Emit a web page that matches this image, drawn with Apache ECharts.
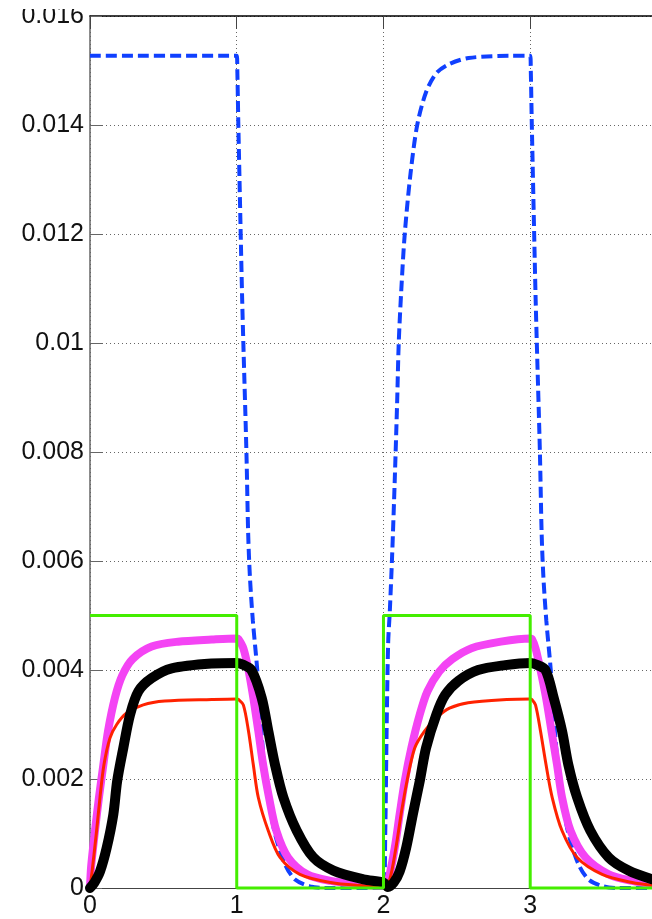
<!DOCTYPE html>
<html>
<head>
<meta charset="utf-8">
<script src="https://cdn.jsdelivr.net/npm/echarts@6/dist/echarts.min.js"></script>
<style>
  html, body { margin: 0; padding: 0; background: #fff; }
  #chart { width: 652px; height: 919px; }
</style>
</head>
<body>
<div id="chart"></div>
<script>
// Tick labels
const xTickValues = [0, 1, 2, 3];
const yTickLabels = ['0', '0.002', '0.004', '0.006', '0.008', '0.01', '0.012', '0.014', '0.016'];

// Square-wave input (green)
const greenT = [0, 1, 1, 2, 2, 3, 3, 3.83];
const greenV = [0.005, 0.005, 0, 0, 0.005, 0.005, 0, 0];

// Blue dashed response
const blueT = [0, 1.0, 1.004, 1.011, 1.027, 1.037, 1.045, 1.066, 1.078, 1.09, 1.11, 1.14, 1.165, 1.19, 1.22, 1.26, 1.33, 1.40, 1.50, 1.60, 2.0,
  2.012, 2.022, 2.032, 2.043, 2.059, 2.077, 2.093, 2.104, 2.122, 2.145, 2.184, 2.23, 2.29, 2.36, 2.45, 2.58, 2.87, 3.0,
  3.004, 3.011, 3.027, 3.037, 3.045, 3.066, 3.078, 3.09, 3.11, 3.14, 3.165, 3.19, 3.22, 3.26, 3.33, 3.40, 3.50, 3.60, 3.83];
const blueV = [0.01527, 0.01527, 0.0150, 0.0140, 0.0120, 0.0108, 0.0100, 0.0080, 0.0065, 0.0057, 0.0049, 0.0040, 0.0030, 0.0022, 0.0016, 0.0010, 0.00043, 0.00015, 0.00003, 0, 0,
  0.0010, 0.0030, 0.0045, 0.00507, 0.0061, 0.0075, 0.0089, 0.0100, 0.0110, 0.0120, 0.0131, 0.0140, 0.0146, 0.01495, 0.01512, 0.01523, 0.01527, 0.01527,
  0.0150, 0.0140, 0.0120, 0.0108, 0.0100, 0.0080, 0.0065, 0.0057, 0.0049, 0.0040, 0.0030, 0.0022, 0.0016, 0.0010, 0.00043, 0.00015, 0.00003, 0, 0];

// Magenta response
const magentaT = [0, 0.008, 0.034, 0.061, 0.091, 0.123, 0.17, 0.22, 0.29, 0.42, 0.6, 0.83, 1.0,
  1.011, 1.045, 1.08, 1.113, 1.147, 1.18, 1.22, 1.27, 1.35, 1.48, 1.64, 1.82, 2.0,
  2.031, 2.077, 2.11, 2.145, 2.19, 2.247, 2.30, 2.38, 2.47, 2.60, 2.80, 3.0,
  3.011, 3.036, 3.07, 3.108, 3.145, 3.183, 3.217, 3.275, 3.377, 3.535, 3.695, 3.83];
const magentaV = [0, 0.0004, 0.00105, 0.00166, 0.00226, 0.00288, 0.00349, 0.0039, 0.0042, 0.00443, 0.00452, 0.00456, 0.00458,
  0.00457, 0.0044, 0.0040, 0.00349, 0.00288, 0.00226, 0.00166, 0.00105, 0.00056, 0.00025, 0.00013, 0.00007, 0.00004,
  0.00013, 0.00074, 0.00135, 0.00196, 0.00257, 0.00318, 0.00361, 0.00397, 0.0042, 0.0044, 0.00452, 0.00458,
  0.00457, 0.0044, 0.0040, 0.00349, 0.00288, 0.00226, 0.00166, 0.00105, 0.00056, 0.00025, 0.00013, 0.00007];

// Red response
const redT = [0, 0.014, 0.045, 0.068, 0.095, 0.136, 0.182, 0.25, 0.363, 0.51, 0.83, 1.0,
  1.011, 1.045, 1.08, 1.113, 1.147, 1.215, 1.295, 1.43, 1.64, 1.86, 2.0,
  2.04, 2.085, 2.12, 2.16, 2.213, 2.28, 2.36, 2.45, 2.577, 2.84, 3.0,
  3.011, 3.036, 3.07, 3.108, 3.15, 3.217, 3.32, 3.49, 3.695, 3.83];
const redV = [0, 0.0003, 0.00105, 0.00166, 0.00226, 0.00275, 0.0030, 0.00321, 0.00336, 0.00343, 0.00346, 0.00347,
  0.00346, 0.00336, 0.00288, 0.00226, 0.00166, 0.00105, 0.00056, 0.00025, 0.0001, 0.00004, 0.00002,
  0.00013, 0.00074, 0.00135, 0.00196, 0.00257, 0.00288, 0.00312, 0.0033, 0.0034, 0.00346, 0.00347,
  0.00346, 0.00336, 0.00288, 0.00226, 0.00166, 0.00105, 0.00056, 0.00025, 0.0001, 0.00005];

// Black response
const blackT = [0, 0.03, 0.068, 0.114, 0.159, 0.185, 0.227, 0.273, 0.33, 0.42, 0.557, 0.83, 1.0,
  1.04, 1.10, 1.17, 1.215, 1.261, 1.318, 1.409, 1.522, 1.659, 1.863, 2.0,
  2.03, 2.07, 2.11, 2.155, 2.20, 2.247, 2.29, 2.36, 2.42, 2.51, 2.645, 2.83, 3.0,
  3.04, 3.104, 3.16, 3.217, 3.26, 3.32, 3.41, 3.535, 3.67, 3.83];
const blackV = [0, 0.0001, 0.0003, 0.00074, 0.00135, 0.00196, 0.00257, 0.00318, 0.00361, 0.00385, 0.00403, 0.00412, 0.00413,
  0.0041, 0.0040, 0.00349, 0.00288, 0.00226, 0.00166, 0.00105, 0.00056, 0.00032, 0.00016, 0.0001,
  0.00002, 0.0001, 0.0003, 0.00074, 0.00135, 0.00196, 0.00257, 0.00318, 0.00354, 0.0038, 0.0040, 0.00409, 0.00413,
  0.0041, 0.0040, 0.00349, 0.00288, 0.00226, 0.00166, 0.00105, 0.00056, 0.00032, 0.00016];

const pairs = (t, v) => t.map((x, i) => [x, v[i]]);

const labelFont = { fontFamily: 'Liberation Sans, Arial, sans-serif', fontSize: 25, color: '#111' };
const gridDots = { color: '#666', width: 1, type: [1, 3] };

const chart = echarts.init(document.getElementById('chart'), null, { renderer: 'canvas' });

const lineBase = { type: 'line', showSymbol: false, symbol: 'none', clip: false, animation: false };
const smoothed = { smooth: 0.3 };

chart.setOption({
  backgroundColor: '#fff',
  animation: false,
  grid: { left: 90, right: 0, top: 16, bottom: 29, containLabel: false },
  xAxis: [
    {
      type: 'value', position: 'bottom', min: 0, max: 3.83, interval: 1,
      axisLine: { show: true, lineStyle: { color: '#444', width: 1 } },
      axisTick: { show: true, inside: true, length: 12, lineStyle: { color: '#444' } },
      axisLabel: {
        ...labelFont, margin: 6, showMaxLabel: false,
        formatter: v => (xTickValues.includes(v) ? String(v) : '')
      },
      splitLine: { show: true, lineStyle: gridDots }
    },
    {
      type: 'value', position: 'top', min: 0, max: 3.83, interval: 1,
      axisLine: { show: true, onZero: false, lineStyle: { color: '#000', width: 1.5 } },
      axisTick: { show: true, inside: true, length: 13, lineStyle: { color: '#444' } },
      axisLabel: { show: false },
      splitLine: { show: false }
    }
  ],
  yAxis: {
    type: 'value', min: 0, max: 0.016, interval: 0.002,
    axisLine: { show: true, lineStyle: { color: '#666', width: 1.5 } },
    axisTick: { show: true, inside: true, length: 12, lineStyle: { color: '#666' } },
    axisLabel: {
      ...labelFont, margin: 6,
      formatter: v => yTickLabels[Math.round(v / 0.002)] ?? ''
    },
    splitLine: { show: true, lineStyle: gridDots }
  },
  series: [
    { ...lineBase, ...smoothed, name: 'blue', data: pairs(blueT, blueV),
      lineStyle: { color: '#1040ff', width: 4, type: [11, 5] } },
    { ...lineBase, ...smoothed, name: 'magenta', data: pairs(magentaT, magentaV),
      lineStyle: { color: '#f444f4', width: 8, cap: 'round', join: 'round' } },
    { ...lineBase, ...smoothed, name: 'red', data: pairs(redT, redV),
      lineStyle: { color: '#ff2200', width: 3, cap: 'round', join: 'round' } },
    { ...lineBase, ...smoothed, name: 'black', data: pairs(blackT, blackV),
      lineStyle: { color: '#000', width: 10, cap: 'round', join: 'round' } },
    { ...lineBase, name: 'green', data: pairs(greenT, greenV),
      lineStyle: { color: '#44ee00', width: 3 } }
  ],
  graphic: [
    { type: 'rect', left: 0, top: 0, shape: { width: 90, height: 9 }, style: { fill: '#fff' }, z: 100 }
  ]
});
</script>
</body>
</html>
